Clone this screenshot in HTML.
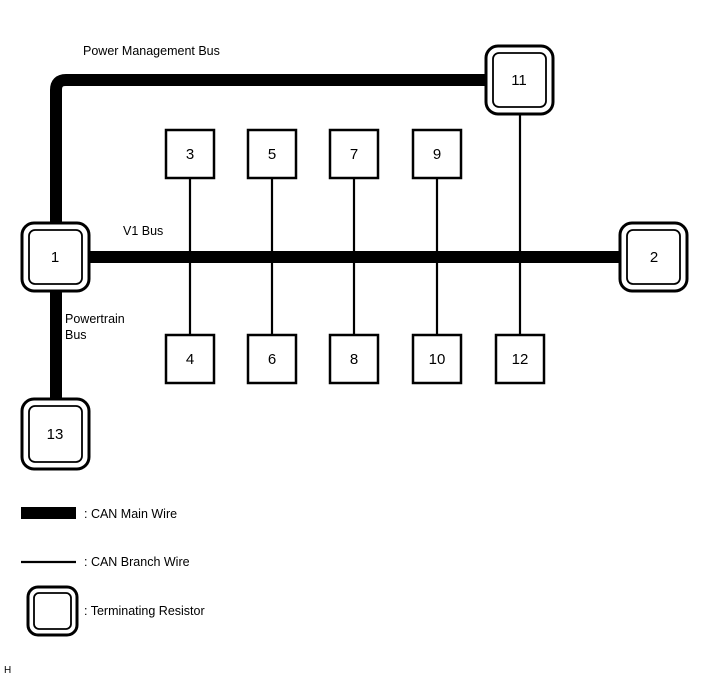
<!DOCTYPE html>
<html><head><meta charset="utf-8"><style>body{margin:0;background:#fff}svg{display:block}text{font-family:"Liberation Sans",sans-serif;fill:#000}</style></head><body>
<svg width="713" height="681" viewBox="0 0 713 681" xmlns="http://www.w3.org/2000/svg">
<g fill="none" stroke="#000">
<path d="M56 232 V90 Q56 80 66 80 H490" stroke-width="12"/>
<line x1="90" y1="257" x2="620" y2="257" stroke-width="12"/>
<line x1="56" y1="290" x2="56" y2="400" stroke-width="12"/>
<g stroke-width="2.2">
<line x1="190" y1="178" x2="190" y2="335"/>
<line x1="272" y1="178" x2="272" y2="335"/>
<line x1="354" y1="178" x2="354" y2="335"/>
<line x1="437" y1="178" x2="437" y2="335"/>
<line x1="520" y1="114" x2="520" y2="335"/>
</g>
</g>
<g fill="#fff" stroke="#000" stroke-width="2.5">
<rect x="166" y="130" width="48" height="48"/>
<rect x="248" y="130" width="48" height="48"/>
<rect x="330" y="130" width="48" height="48"/>
<rect x="413" y="130" width="48" height="48"/>
<rect x="166" y="335" width="48" height="48"/>
<rect x="248" y="335" width="48" height="48"/>
<rect x="330" y="335" width="48" height="48"/>
<rect x="413" y="335" width="48" height="48"/>
<rect x="496" y="335" width="48" height="48"/>
</g>
<g fill="#fff" stroke="#000">
<rect x="22" y="223" width="67" height="68" rx="12" stroke-width="3"/>
<rect x="29" y="230" width="53" height="54" rx="6" stroke-width="1.8"/>
<rect x="486" y="46" width="67" height="68" rx="12" stroke-width="3"/>
<rect x="493" y="53" width="53" height="54" rx="6" stroke-width="1.8"/>
<rect x="620" y="223" width="67" height="68" rx="12" stroke-width="3"/>
<rect x="627" y="230" width="53" height="54" rx="6" stroke-width="1.8"/>
<rect x="22" y="399" width="67" height="70" rx="12" stroke-width="3"/>
<rect x="29" y="406" width="53" height="56" rx="6" stroke-width="1.8"/>
<rect x="28" y="587" width="49" height="48" rx="10" stroke-width="3"/>
<rect x="34" y="593" width="37" height="36" rx="5" stroke-width="1.8"/>
</g>
<rect x="21" y="507" width="55" height="12" fill="#000"/>
<line x1="21" y1="562" x2="76" y2="562" stroke="#000" stroke-width="2.2"/>
<g font-size="15" text-anchor="middle">
<text x="190" y="159">3</text><text x="272" y="159">5</text><text x="354" y="159">7</text><text x="437" y="159">9</text>
<text x="190" y="364">4</text><text x="272" y="364">6</text><text x="354" y="364">8</text><text x="437" y="364">10</text><text x="520" y="364">12</text>
<text x="55" y="262">1</text><text x="519" y="85">11</text><text x="654" y="262">2</text><text x="55" y="439">13</text>
</g>
<g font-size="12.5">
<text x="83" y="55">Power Management Bus</text>
<text x="123" y="235">V1 Bus</text>
<text x="65" y="323">Powertrain</text>
<text x="65" y="339">Bus</text>
<text x="84" y="518">: CAN Main Wire</text>
<text x="84" y="566">: CAN Branch Wire</text>
<text x="84" y="615">: Terminating Resistor</text>
<text x="4" y="673" font-size="10">H</text>
</g>
</svg>
</body></html>
